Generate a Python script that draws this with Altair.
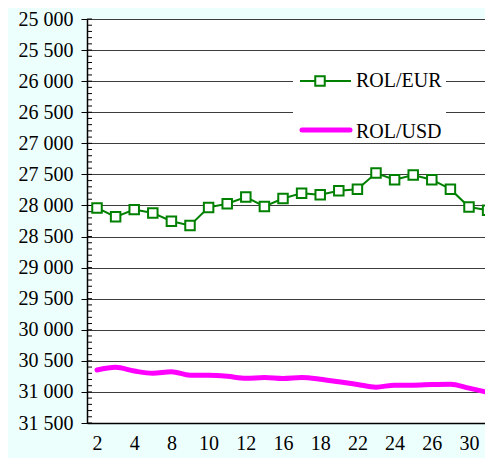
import altair as alt
import pandas as pd

days = [2, 3, 4, 5, 8, 9, 10, 11, 12, 15, 16, 17, 18, 19, 22, 23, 24, 25, 26, 29, 30, 31]
rol_eur = [28040, 28183, 28067, 28120, 28253, 28321, 28031, 27972, 27865, 28015, 27888,
           27802, 27829, 27765, 27738, 27479, 27586, 27511, 27586, 27738, 28024, 28078]
rol_usd = [30647, 30605, 30663, 30700, 30674, 30732, 30732, 30748, 30780, 30769, 30785,
           30769, 30795, 30837, 30880, 30923, 30891, 30891, 30880, 30875, 30939, 31007]
y_ticks = list(range(25000, 31501, 500))
minor_ticks = list(range(25000, 31501, 100))
series_names = ["ROL/EUR", "ROL/USD"]

df = pd.DataFrame({"idx": list(range(len(days))), "day": days, "eur": rol_eur, "usd": rol_usd})
minor_df = pd.DataFrame({"v": minor_ticks})

FONT = "Liberation Serif"
FS = 20
label_expr = "[" + ",".join("'%d'" % d for d in days) + "][datum.value]"

x_enc = alt.X("idx:Q",
              scale=alt.Scale(domain=[-0.538, 20.86], nice=False, zero=False),
              axis=alt.Axis(values=list(range(0, 21, 2)), labelExpr=label_expr, grid=False,
                            ticks=False, tickSize=0, domainColor="black", domainWidth=1.5,
                            labelFont=FONT, labelFontSize=FS, labelColor="black",
                            labelPadding=10, title=None, labelAngle=0))


def y_enc(field):
    return alt.Y(field,
                 scale=alt.Scale(domain=[25000, 31500], reverse=True, nice=False, zero=False),
                 axis=alt.Axis(values=y_ticks, grid=True, gridColor="#3c3c3c", gridWidth=1,
                               tickSize=6, tickColor="black", tickWidth=1,
                               domainColor="black", domainWidth=1.5,
                               labelExpr="replace(format(datum.value, ','), ',', ' ')",
                               labelFont=FONT, labelFontSize=FS, labelColor="black",
                               labelPadding=8, title=None))


base = alt.Chart(df)

usd_line = base.mark_line(color="#FF00FF", strokeWidth=5, interpolate="monotone",
                          strokeCap="round", clip=True).encode(x=x_enc, y=y_enc("usd:Q"))
eur_line = base.mark_line(color="#008000", strokeWidth=2, clip=True).encode(x=x_enc, y=y_enc("eur:Q"))
eur_pts = base.mark_point(shape="square", size=90, filled=False, fill="white", fillOpacity=1,
                          stroke="#008000", strokeWidth=2, opacity=1, clip=True).encode(
    x=x_enc, y=y_enc("eur:Q"))

minor = alt.Chart(minor_df).mark_rule(color="black", strokeWidth=1).encode(
    x=alt.value(0), x2=alt.value(5), y=y_enc("v:Q"))

leg_df = pd.DataFrame({"label": series_names})
leg_box = alt.Chart(leg_df.head(1)).mark_rect(fill="white").encode(
    x=alt.value(206), x2=alt.value(359), y=alt.value(37), y2=alt.value(121))
leg_eur_line = alt.Chart(leg_df.head(1)).mark_rule(color="#008000", strokeWidth=2).encode(
    x=alt.value(213), x2=alt.value(264), y=alt.value(62))
leg_eur_pt = alt.Chart(leg_df.head(1)).mark_point(shape="square", size=90, fill="white",
                                                   fillOpacity=1, stroke="#008000",
                                                   strokeWidth=2, opacity=1).encode(
    x=alt.value(233), y=alt.value(62))
leg_eur_txt = alt.Chart(leg_df.head(1)).mark_text(font=FONT, fontSize=FS, align="left",
                                                  baseline="middle", color="black").encode(
    x=alt.value(269), y=alt.value(62), text="label:N")
leg_usd_line = alt.Chart(leg_df.tail(1)).mark_rule(color="#FF00FF", strokeWidth=5,
                                                   strokeCap="round").encode(
    x=alt.value(215), x2=alt.value(263), y=alt.value(111))
leg_usd_txt = alt.Chart(leg_df.tail(1)).mark_text(font=FONT, fontSize=FS, align="left",
                                                  baseline="middle", color="black").encode(
    x=alt.value(269), y=alt.value(113), text="label:N")

chart = alt.layer(
    minor, leg_box, leg_eur_line, leg_eur_pt, leg_eur_txt, leg_usd_line, leg_usd_txt,
    usd_line, eur_line, eur_pts
).properties(
    width=398, height=404,
    autosize=alt.AutoSizeParams(type="none"),
    padding={"left": 79, "top": 11, "right": 0, "bottom": 35},
    background="#EDFFFC",
).configure_view(fill="white", stroke="transparent")

chart.save("out.html", embed_options={"renderer": "svg", "actions": False})
